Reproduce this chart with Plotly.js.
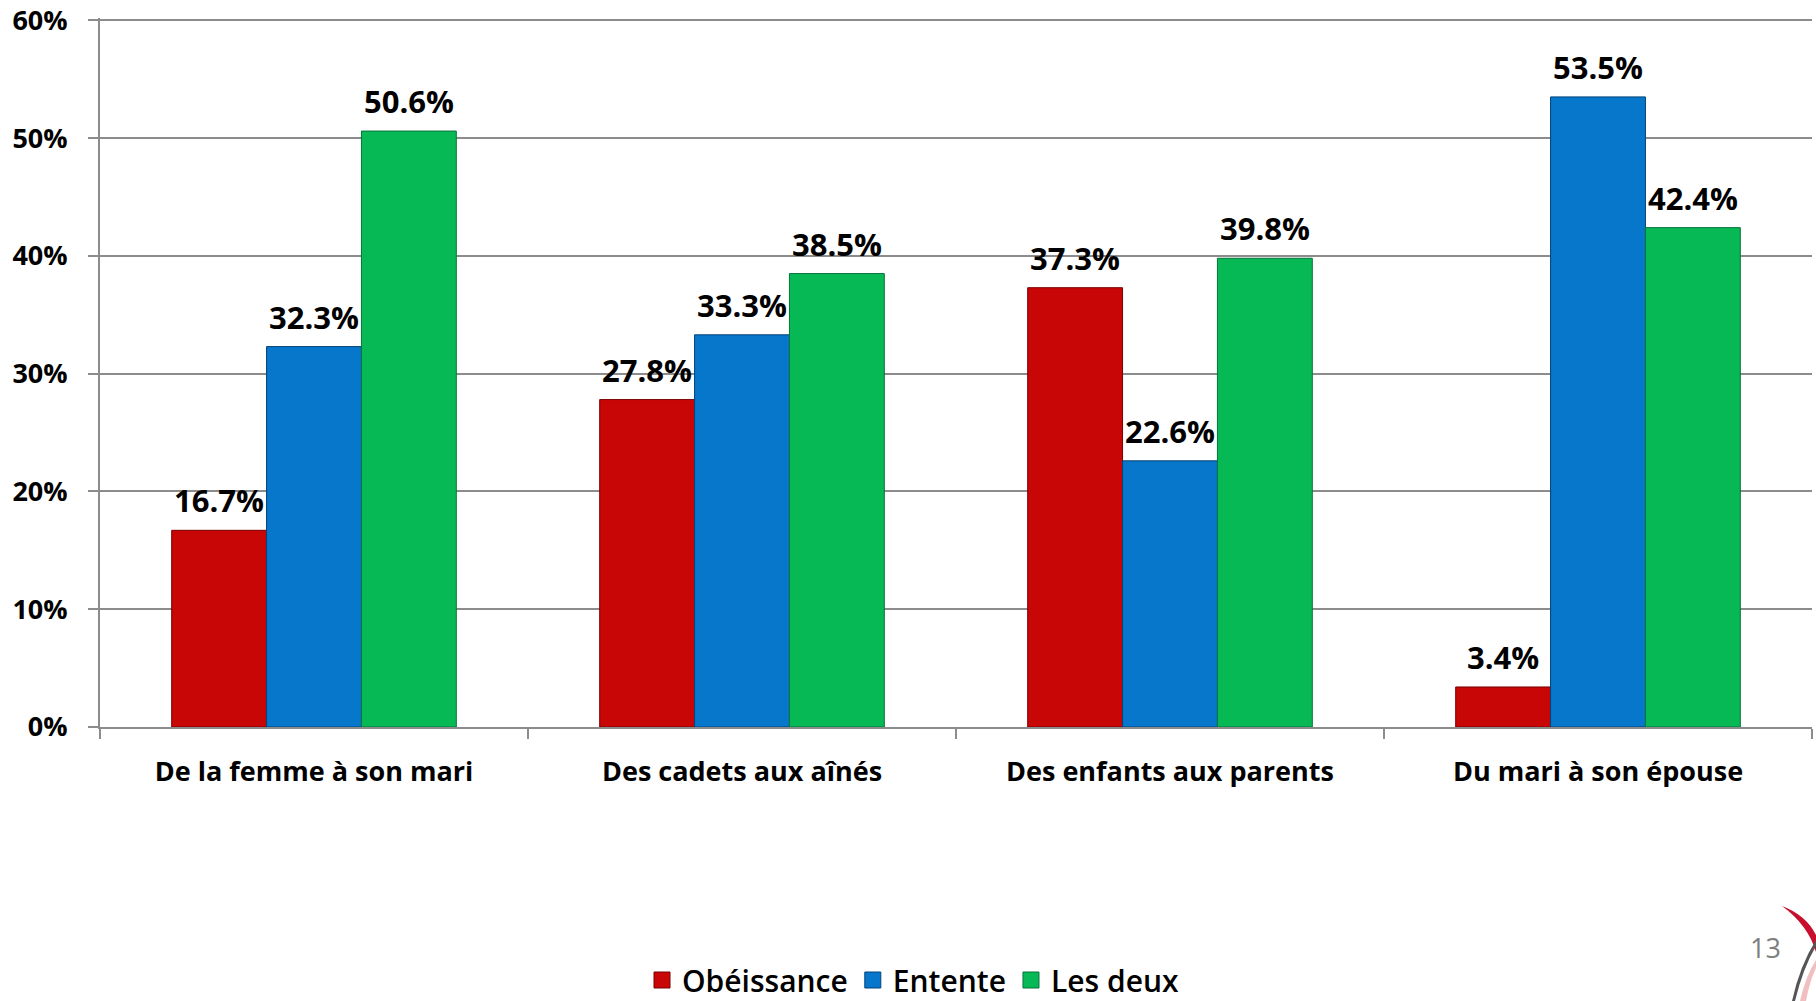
<!DOCTYPE html>
<html>
<head>
<meta charset="utf-8">
<script src="https://cdn.plot.ly/plotly-3.0.1.min.js"></script>
<style>html,body{margin:0;padding:0;background:#fff;}#chart{width:1816px;height:1001px;}</style>
</head>
<body>
<div id="chart"></div>
<script>
const categories = ["De la femme à son mari", "Des cadets aux aînés", "Des enfants aux parents", "Du mari à son épouse"];
const seriesNames = ["Obéissance", "Entente", "Les deux"];
const obeissance = [16.7, 27.8, 37.3, 3.4];
const entente = [32.3, 33.3, 22.6, 53.5];
const lesDeux = [50.6, 38.5, 39.8, 42.4];
const yTickVals = [0, 10, 20, 30, 40, 50, 60];
const yTickText = ["0%", "10%", "20%", "30%", "40%", "50%", "60%"];
const pageNumber = "13";

const seriesValues = [obeissance, entente, lesDeux];
const colors = ["#C90606", "#0677CA", "#07B955"];
const lineColors = ["#7a0000", "#03437a", "#04733a"];
const BARGAP = 0.335;
const FONT = "'Open Sans', 'Noto Sans', sans-serif";

const traces = seriesValues.map((vals, i) => ({
  type: 'bar',
  name: seriesNames[i],
  x: categories,
  y: vals,
  showlegend: false,
  marker: {color: colors[i], line: {color: lineColors[i], width: 1}},
  hoverinfo: 'none'
}));
// legend entries (square symbols, no drawn data)
seriesNames.forEach((n, i) => traces.push({
  type: 'scatter', mode: 'markers', name: n, x: [null], y: [null],
  marker: {symbol: 'square', size: 19, color: colors[i], line: {color: lineColors[i], width: 1}},
  showlegend: true, hoverinfo: 'none'
}));

// value labels above each bar (positioned in data coordinates)
const annotations = [];
const groupW = 1 - BARGAP;
seriesValues.forEach((vals, s) => {
  vals.forEach((v, c) => {
    annotations.push({
      xref: 'x', yref: 'y',
      x: c + (s - 1) * groupW / 3,
      y: v,
      text: v.toFixed(1) + '%',
      showarrow: false,
      yanchor: 'bottom',
      yshift: 7,
      font: {family: FONT, size: 31, color: '#000', weight: 700}
    });
  });
});

// plot area geometry for decorations
const L = 100, R = 1812, T = 18, B = 727;
const px = X => (X - L) / (R - L);
const py = Y => (B - Y) / (B - T);

annotations.push({
  xref: 'paper', yref: 'paper', x: px(1765), y: py(947),
  text: pageNumber, showarrow: false, xanchor: 'center', yanchor: 'middle',
  font: {family: FONT, size: 27, color: '#7f7f7f'}
});

function pathFrom(points) {
  return points.map((p, i) => (i === 0 ? 'M' : (p.length === 4 ? 'Q' : 'L')) +
    (p.length === 4 ? `${px(p[0])},${py(p[1])} ${px(p[2])},${py(p[3])}` : `${px(p[0])},${py(p[1])}`)).join(' ') + ' Z';
}

const shapes = [
  {type: 'path', xref: 'paper', yref: 'paper', line: {width: 0}, fillcolor: '#c8102e',
   path: pathFrom([[1782, 906], [1806, 915, 1816, 935], [1816, 952], [1808, 925, 1782, 906]])},
  {type: 'path', xref: 'paper', yref: 'paper', line: {width: 0}, fillcolor: 'rgba(230,150,150,0.6)',
   path: pathFrom([[1816, 960], [1806, 975, 1800, 1001], [1806, 1001], [1810, 980, 1816, 968]])},
  {type: 'path', xref: 'paper', yref: 'paper', line: {width: 0}, fillcolor: '#555',
   path: pathFrom([[1816, 940], [1800, 965, 1792, 1001], [1795, 1001], [1803, 968, 1816, 946]])}
];

const layout = {
  width: 1816, height: 1001,
  margin: {l: L, r: 1816 - R, t: T, b: 1001 - B, autoexpand: false},
  paper_bgcolor: '#fff', plot_bgcolor: '#fff',
  barmode: 'group', bargap: BARGAP, bargroupgap: 0,
  font: {family: FONT, color: '#000'},
  showlegend: true,
  legend: {
    orientation: 'h', x: px(913), xanchor: 'center', y: py(980), yanchor: 'middle',
    font: {family: FONT, size: 30, color: '#000', weight: 600},
    itemclick: false, bgcolor: 'rgba(0,0,0,0)'
  },
  xaxis: {
    type: 'category', automargin: false,
    showgrid: false, showline: true, linecolor: '#8c8c8c', linewidth: 2,
    ticks: 'outside', tickson: 'boundaries', ticklen: 10, tickcolor: '#8c8c8c', tickwidth: 2,
    ticklabelstandoff: 20,
    tickfont: {family: FONT, size: 27, color: '#000', weight: 700},
    fixedrange: true
  },
  yaxis: {
    range: [0, 60.2], tickvals: yTickVals, ticktext: yTickText, automargin: false,
    showgrid: true, gridcolor: '#8c8c8c', gridwidth: 2,
    showline: true, linecolor: '#8c8c8c', linewidth: 2,
    ticks: 'outside', ticklen: 10, tickcolor: '#8c8c8c', tickwidth: 2,
    ticklabelstandoff: 15, ticklabeloverflow: 'allow',
    tickfont: {family: FONT, size: 27, color: '#000', weight: 700},
    zeroline: false, fixedrange: true
  },
  annotations: annotations,
  shapes: shapes
};

Plotly.newPlot('chart', traces, layout, {displayModeBar: false, staticPlot: true});
</script>
</body>
</html>
